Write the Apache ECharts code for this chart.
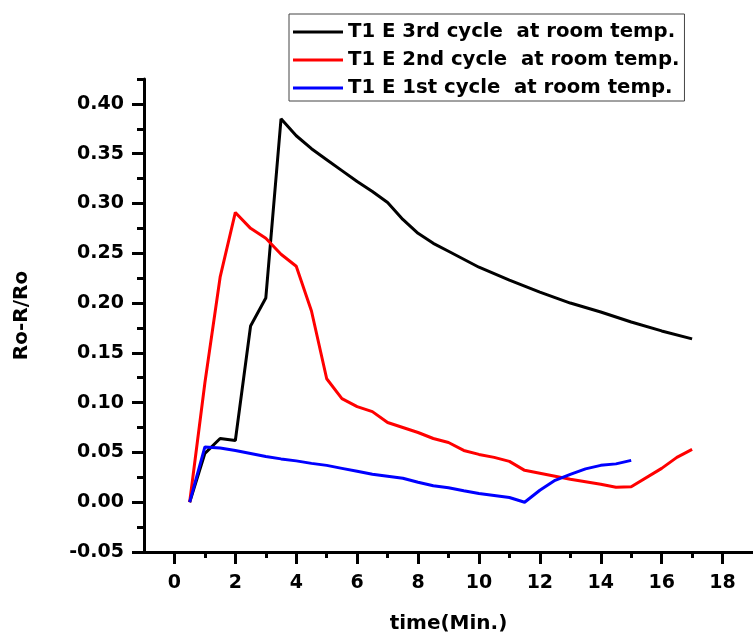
<!DOCTYPE html>
<html>
<head>
<meta charset="UTF-8">
<title>Ro-R/Ro vs time</title>
<style>
  html, body { margin: 0; padding: 0; background: #fff; }
  #chart { width: 753px; height: 639px; }
</style>
</head>
<body>
<div id="chart"></div>
<script src="https://cdn.jsdelivr.net/npm/echarts@6/dist/echarts.min.js"></script>
<script>
// legend names
var names = ['T1 E 3rd cycle  at room temp.', 'T1 E 2nd cycle  at room temp.', 'T1 E 1st cycle  at room temp.'];

// 3rd cycle (black)
var t3 = [0.5, 1, 1.5, 2, 2.5, 3, 3.5, 4, 4.5, 5, 5.5, 6, 6.5, 7, 7.5, 8, 8.5, 9, 9.5, 10, 11, 12, 13, 14, 15, 16, 17];
var v3 = [0, 0.049, 0.064, 0.062, 0.177, 0.205, 0.385, 0.368, 0.355, 0.344, 0.333, 0.322, 0.312, 0.301, 0.284, 0.270, 0.260, 0.252, 0.244, 0.236, 0.223, 0.211, 0.200, 0.191, 0.181, 0.172, 0.164];

// 2nd cycle (red)
var t2 = [0.5, 1, 1.5, 2, 2.5, 3, 3.5, 4, 4.5, 5, 5.5, 6, 6.5, 7, 7.5, 8, 8.5, 9, 9.5, 10, 10.5, 11, 11.5, 12, 13, 14, 14.5, 15, 16, 16.5, 17];
var v2 = [0, 0.12, 0.226, 0.291, 0.275, 0.265, 0.249, 0.237, 0.192, 0.124, 0.104, 0.096, 0.091, 0.080, 0.075, 0.070, 0.064, 0.060, 0.052, 0.048, 0.045, 0.041, 0.032, 0.029, 0.023, 0.018, 0.015, 0.0155, 0.034, 0.045, 0.053];

// 1st cycle (blue)
var t1 = [0.5, 1, 1.5, 2, 2.5, 3, 3.5, 4, 4.5, 5, 5.5, 6, 6.5, 7, 7.5, 8, 8.5, 9, 9.5, 10, 10.5, 11, 11.5, 12, 12.5, 13, 13.5, 14, 14.5, 15];
var v1 = [0, 0.0555, 0.0545, 0.052, 0.049, 0.046, 0.0435, 0.0415, 0.039, 0.037, 0.034, 0.031, 0.028, 0.026, 0.024, 0.020, 0.0165, 0.0145, 0.0115, 0.0087, 0.0068, 0.0047, 0, 0.012, 0.022, 0.028, 0.0335, 0.037, 0.0385, 0.042];

// axis ticks
var xMajor = [0, 2, 4, 6, 8, 10, 12, 14, 16, 18];
var xMinor = [1, 3, 5, 7, 9, 11, 13, 15, 17];
var yMajor = [-0.05, 0, 0.05, 0.1, 0.15, 0.2, 0.25, 0.3, 0.35, 0.4];
var yMinor = [-0.025, 0.025, 0.075, 0.125, 0.175, 0.225, 0.275, 0.325, 0.375, 0.425];

function zip(xs, ys) {
  return xs.map(function (x, i) { return [x, ys[i]]; });
}

var font = 'DejaVu Sans';
var axisStyle = { color: '#000', width: 3 };

var myChart = echarts.init(document.getElementById('chart'));
myChart.setOption({
  animation: false,
  grid: { left: 144, right: 0, top: 79, bottom: 87 },
  legend: {
    orient: 'vertical',
    left: 289,
    top: 14,
    padding: [8, 5, 3, 4],
    itemGap: 8,
    itemWidth: 50,
    itemHeight: 3,
    icon: 'rect',
    borderColor: '#444',
    borderWidth: 1,
    data: names,
    textStyle: { fontFamily: font, fontWeight: 'bold', fontSize: 19.7, color: '#000', lineHeight: 20 }
  },
  xAxis: [{
    type: 'value',
    min: -1,
    max: 19,
    name: 'time(Min.)',
    nameLocation: 'middle',
    nameGap: 62,
    nameTextStyle: { fontFamily: font, fontWeight: 'bold', fontSize: 20, color: '#000' },
    axisLine: { show: true, onZero: false, lineStyle: axisStyle },
    axisTick: { show: true, length: 12, customValues: xMajor, lineStyle: axisStyle },
    axisLabel: {
      customValues: xMajor, margin: 22,
      fontFamily: font, fontWeight: 'bold', fontSize: 19, color: '#000'
    },
    splitLine: { show: false }
  }, {
    type: 'value',
    min: -1,
    max: 19,
    position: 'bottom',
    axisLine: { show: false, onZero: false },
    axisTick: { show: true, length: 6, customValues: xMinor, lineStyle: axisStyle },
    axisLabel: { show: false },
    splitLine: { show: false }
  }],
  yAxis: [{
    type: 'value',
    min: -0.05,
    max: 0.425,
    name: 'Ro-R/Ro',
    nameLocation: 'middle',
    nameGap: 112,
    nameTextStyle: { fontFamily: font, fontWeight: 'bold', fontSize: 20, color: '#000' },
    axisLine: { show: true, onZero: false, lineStyle: axisStyle },
    axisTick: { show: true, length: 12, customValues: yMajor, lineStyle: axisStyle },
    axisLabel: {
      customValues: yMajor, margin: 20,
      fontFamily: font, fontWeight: 'bold', fontSize: 19, color: '#000',
      formatter: function (v) { return v.toFixed(2); }
    },
    splitLine: { show: false }
  }, {
    type: 'value',
    min: -0.05,
    max: 0.425,
    position: 'left',
    axisLine: { show: false, onZero: false },
    axisTick: { show: true, length: 7, customValues: yMinor, lineStyle: axisStyle },
    axisLabel: { show: false },
    splitLine: { show: false }
  }],
  series: [{
    name: names[0],
    type: 'line',
    symbol: 'none',
    data: zip(t3, v3),
    lineStyle: { color: '#000', width: 3 },
    itemStyle: { color: '#000' }
  }, {
    name: names[1],
    type: 'line',
    symbol: 'none',
    data: zip(t2, v2),
    lineStyle: { color: '#ff0000', width: 3 },
    itemStyle: { color: '#ff0000' }
  }, {
    name: names[2],
    type: 'line',
    symbol: 'none',
    data: zip(t1, v1),
    lineStyle: { color: '#0000ff', width: 3 },
    itemStyle: { color: '#0000ff' }
  }]
});
</script>
</body>
</html>
